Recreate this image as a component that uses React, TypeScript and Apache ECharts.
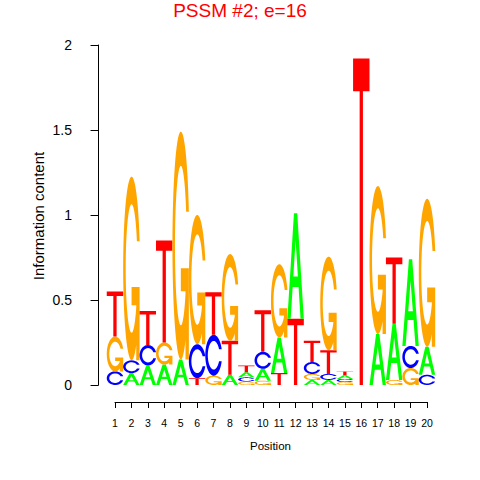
import React, { useEffect, useRef } from "react";
import * as echarts from "echarts";

// ---- data (information content of each letter at each position) ----
const positions = [1, 2, 3, 4, 5, 6, 7, 8, 9, 10, 11, 12, 13, 14, 15, 16, 17, 18, 19, 20];
const letters = ["A", "C", "G", "T"];
const heightA = [0, 0.07, 0.115, 0.12, 0.15, 0, 0, 0.06, 0.03, 0.07, 0.21, 0.62, 0.03, 0.03, 0.021, 0, 0.3, 0.33, 0.51, 0.165];
const heightC = [0.08, 0.075, 0.12, 0, 0, 0.2, 0.24, 0, 0.025, 0.1, 0, 0, 0.07, 0.035, 0.019, 0, 0, 0, 0.13, 0.06];
const heightG = [0.205, 1.08, 0, 0.13, 1.34, 0.76, 0.055, 0.51, 0.02, 0.025, 0.43, 0, 0.035, 0.55, 0.017, 0, 0.87, 0.03, 0.1, 0.87];
const heightT = [0.265, 0, 0.2, 0.6, 0, 0.04, 0.25, 0.2, 0.04, 0.245, 0.07, 0.39, 0.125, 0.14, 0.023, 1.92, 0, 0.39, 0, 0];
const yTicks = [0, 0.5, 1, 1.5, 2];
const titleText = "PSSM #2; e=16";
const xName = "Position";
const yName = "Information content";

const letterColors = ["#00ff00", "#0000ff", "#ffa500", "#ff0000"];

// ---- letter glyph outlines (100x100 box, y down) ----
type P = [number, number];
function poly(pts: P[]): string {
  return pts.map((p, i) => (i ? "L" : "M") + p[0].toFixed(2) + " " + p[1].toFixed(2)).join(" ") + " Z";
}
function ringPts(): P[] {
  const pts: P[] = [];
  const a0 = 0.3;
  const n = 60;
  for (let i = 0; i <= n; i++) {
    const t = a0 + ((2 * Math.PI - 2 * a0) * i) / n;
    pts.push([50 + 50 * Math.cos(t), 50 + 50 * Math.sin(t)]);
  }
  const b0 = Math.asin((50 * Math.sin(a0)) / 35);
  for (let i = 0; i <= n; i++) {
    const t = 2 * Math.PI - b0 - ((2 * Math.PI - 2 * b0) * i) / n;
    pts.push([50 + 35 * Math.cos(t), 50 + 35 * Math.sin(t)]);
  }
  return pts;
}
const r1 = 50 + 50 * Math.cos(0.3);
const PATH_A =
  poly([[0, 100], [40, 0], [60, 0], [100, 100], [80, 100], [68, 70], [32, 70], [20, 100]]) +
  " " +
  poly([[36, 60], [64, 60], [50, 25]]);
const PATH_C = poly(ringPts());
const PATH_G =
  poly(ringPts()) +
  " " +
  poly([[r1, 60], [r1, 100], [r1 - 20, 100], [r1 - 20, 70], [50, 70], [50, 60]]);
const PATH_T = poly([[0, 0], [100, 0], [100, 10], [60, 10], [60, 100], [40, 100], [40, 10], [0, 10]]);
const letterPaths = [PATH_A, PATH_C, PATH_G, PATH_T];

export default function App() {
  const ref = useRef<HTMLDivElement>(null);
  useEffect(() => {
    if (!ref.current) return;
    const chart = echarts.init(ref.current, undefined, { renderer: "svg" });
    const heights = [heightA, heightC, heightG, heightT];
    const data: number[][] = [];
    positions.forEach((p, i) => {
      const stack = [0, 1, 2, 3]
        .map((li) => ({ li, h: heights[li][i] }))
        .filter((s) => s.h > 0)
        .sort((a, b) => a.h - b.h);
      let y = 0;
      stack.forEach((s) => {
        data.push([p, y, y + s.h, s.li]);
        y += s.h;
      });
    });
    const font = "Liberation Sans, Arial, Helvetica, sans-serif";
    const option: any = {
      animation: false,
      grid: [
        { left: 90, top: 45, width: 353.4, height: 340 },
        { left: 115, top: 401, width: 312, height: 1 },
      ],
      xAxis: [
        { gridIndex: 0, type: "value", min: -0.52, max: 21, show: false },
        {
          gridIndex: 1,
          type: "value",
          min: 1,
          max: 20,
          interval: 1,
          position: "bottom",
          axisLine: { show: true, onZero: false, lineStyle: { color: "#000", width: 1 } },
          axisTick: { show: true, length: 6, lineStyle: { color: "#000" } },
          axisLabel: { fontSize: 10.5, color: "#000", margin: 15, fontFamily: font, showMinLabel: true, showMaxLabel: true },
          splitLine: { show: false },
        },
      ],
      yAxis: [
        {
          gridIndex: 0,
          type: "value",
          min: yTicks[0],
          max: yTicks[yTicks.length - 1],
          interval: 0.5,
          axisLine: { show: true, lineStyle: { color: "#000", width: 1 } },
          axisTick: { show: true, length: 8, lineStyle: { color: "#000" } },
          axisLabel: { fontSize: 14, color: "#000", margin: 18, fontFamily: font },
          splitLine: { show: false },
        },
        { gridIndex: 1, type: "value", min: 0, max: 1, show: false },
      ],
      graphic: [
        {
          type: "text",
          x: 240,
          y: 10,
          style: { text: titleText, fill: "#ff0000", font: "19px " + font, textAlign: "center", textVerticalAlign: "middle" },
        },
        {
          type: "text",
          x: 270.5,
          y: 446,
          style: { text: xName, fill: "#000", font: "11.5px " + font, textAlign: "center", textVerticalAlign: "middle" },
        },
        {
          type: "text",
          x: 38,
          y: 216,
          rotation: Math.PI / 2,
          style: { text: yName, fill: "#000", font: "15px " + font, textAlign: "center", textVerticalAlign: "middle" },
        },
      ],
      series: [
        {
          type: "custom",
          xAxisIndex: 0,
          yAxisIndex: 0,
          clip: false,
          dimensions: ["pos", "y0", "y1", "letter"],
          encode: { x: 0, y: [1, 2] },
          data,
          renderItem: (params: any, api: any) => {
            const pos = api.value(0);
            const y0 = api.value(1);
            const y1 = api.value(2);
            const li = api.value(3);
            const p0 = api.coord([pos - 0.5, y1]);
            const p1 = api.coord([pos + 0.5, y0]);
            return {
              type: "path",
              shape: {
                pathData: letterPaths[li],
                x: p0[0],
                y: p0[1],
                width: p1[0] - p0[0],
                height: Math.max(p1[1] - p0[1], 0.5),
                layout: "cover",
              },
              style: { fill: letterColors[li] },
            };
          },
        },
      ],
    };
    chart.setOption(option);
    return () => chart.dispose();
  }, []);
  return (
    <div
      ref={ref}
      style={{ position: "fixed", left: 0, top: 0, width: 480, height: 480, background: "#fff" }}
    />
  );
}
